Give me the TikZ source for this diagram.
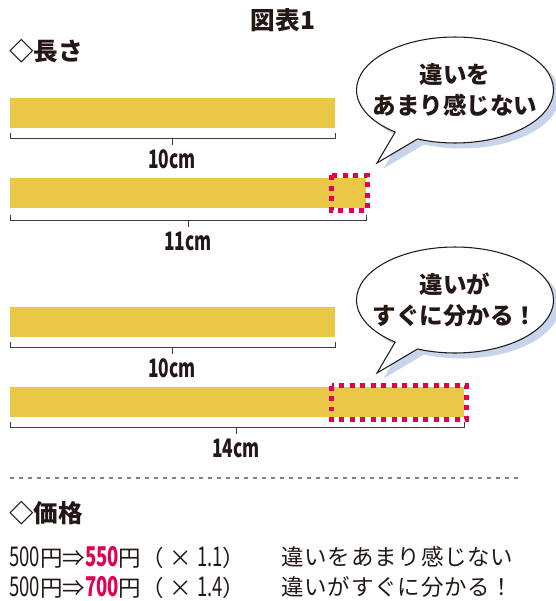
\documentclass[tikz,border=0pt]{standalone}
\usepackage{fontspec}
\setmainfont{Noto Sans CJK JP}
\newfontfamily\digitfont[FakeStretch=0.68]{Noto Sans CJK JP}
\newcommand{\num}[1]{{\fontsize{15.5}{15.5}\digitfont #1}}
\usetikzlibrary{positioning,shapes.callouts,shadows}

\definecolor{ink}{RGB}{35,24,21}
\definecolor{barfill}{RGB}{232,200,70}
\definecolor{accent}{RGB}{228,0,80}
\definecolor{shade}{RGB}{200,212,236}

\tikzset{
	bar/.style={fill=barfill},
	marker/.style={draw=accent,line width=0.1cm,dash pattern=on 0.1cm off 0.11cm},
	ruler/.style={draw=ink!85,line width=0.5pt},
	len/.style={font=\digitfont\bfseries\fontsize{14.5}{14.5}\selectfont,text=ink,inner sep=0pt},
	head/.style={font=\bfseries\fontsize{14}{14}\selectfont,text=ink,anchor=west,inner sep=0pt},
	price/.style={font=\fontsize{12.8}{12.8}\selectfont,text=ink,anchor=west,inner sep=0pt},
	bubble/.style={ellipse callout,draw=ink,fill=white,line width=0.6pt,
		minimum width=3.94cm,minimum height=2.12cm,inner xsep=-0.26cm,inner ysep=0pt,align=center,text=ink,
		font=\bfseries\fontsize{13.4}{17.6}\selectfont,
		drop shadow={fill=shade,shadow xshift=0.13cm,shadow yshift=-0.11cm,opacity=1}},
}

\begin{document}
\begin{tikzpicture}[x=0.02cm,y=-0.02cm]
	\useasboundingbox (0,0) rectangle (555,601);

	\node[font=\bfseries\fontsize{14}{14}\selectfont,text=ink] (title) at (283,20) {図表1};
	\node[head] (lenhead) at (9,51) {◇長さ};

	% 10cm / 11cm
	\fill[bar] (10,98) rectangle (335,128);
	\draw[ruler] (10,133) -- (10,138) -- (335,138) -- (335,133);
	\draw[ruler] (172,138) -- (172,145) coordinate (tenA);
	\node[len,below=2.5pt of tenA] (tenAlabel) {10cm};

	\fill[bar] (10,178) rectangle (366,208);
	\draw[marker] (331.5,175.5) rectangle (367.5,210.5);
	\draw[ruler] (10,215) -- (10,220) -- (366,220) -- (366,215);
	\draw[ruler] (188,220) -- (188,227) coordinate (eleven);
	\node[len,below=2.5pt of eleven] (elevenlabel) {11cm};

	\node[bubble,callout absolute pointer={(377,163)}] (smalltalk) at (455,90) {違いを\\あまり感じない};

	% 10cm / 14cm
	\fill[bar] (10,307) rectangle (335,337);
	\draw[ruler] (10,342) -- (10,347) -- (335,347) -- (335,342);
	\draw[ruler] (172,347) -- (172,354) coordinate (tenB);
	\node[len,below=2.5pt of tenB] (tenBlabel) {10cm};

	\fill[bar] (10,387) rectangle (464,417);
	\draw[marker] (331.5,385.5) rectangle (466.5,419.5);
	\draw[ruler] (10,422) -- (10,427) -- (464,427) -- (464,422);
	\draw[ruler] (236,427) -- (236,434) coordinate (fourteen);
	\node[len,below=2.5pt of fourteen] (fourteenlabel) {14cm};

	\node[bubble,callout absolute pointer={(377,373)}] (bigtalk) at (455,300) {違いが\\すぐに分かる！};

	\draw[ink!55,line width=0.6pt,dash pattern=on 0.08cm off 0.1cm] (10,478) -- (520,478);

	% prices
	\node[head] (pricehead) at (9,513) {◇価格};
	\node[price] (small) at (9,557) {\num{500}円⇒\textcolor{accent}{\bfseries\num{550}}円（\hspace{3pt}×\hspace{3pt}\num{1.1}）};
	\node[price] (smallnote) at (281,557) {\addfontfeature{LetterSpace=3.5}違いをあまり感じない};
	\node[price] (big) at (9,587) {\num{500}円⇒\textcolor{accent}{\bfseries\num{700}}円（\hspace{3pt}×\hspace{3pt}\num{1.4}）};
	\node[price] (bignote) at (281,587) {\addfontfeature{LetterSpace=3.5}違いがすぐに分かる！};
\end{tikzpicture}
\end{document}
